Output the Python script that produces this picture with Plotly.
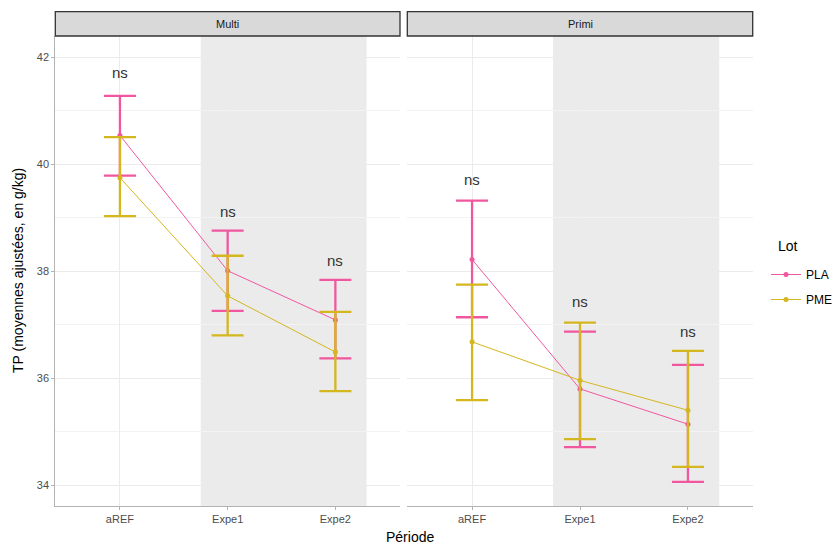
import plotly.graph_objects as go

W, H = 839, 547

periods = ["aREF", "Expe1", "Expe2"]
panels = ["Multi", "Primi"]
lots = ["PLA", "PME"]

# Multi
multi_pla_mean = [40.54, 38.01, 37.09]
multi_pla_low = [39.79, 37.26, 36.37]
multi_pla_high = [41.28, 38.76, 37.84]
multi_pme_mean = [39.75, 37.54, 36.49]
multi_pme_low = [39.03, 36.80, 35.76]
multi_pme_high = [40.51, 38.29, 37.24]

# Primi
primi_pla_mean = [38.22, 35.80, 35.14]
primi_pla_low = [37.14, 34.71, 34.06]
primi_pla_high = [39.32, 36.87, 36.25]
primi_pme_mean = [36.68, 35.96, 35.40]
primi_pme_low = [35.59, 34.86, 34.34]
primi_pme_high = [37.75, 37.04, 36.51]

multi_ns_y = [41.71, 39.12, 38.21]
primi_ns_y = [39.71, 37.44, 36.88]
ns_labels = ["ns", "ns", "ns"]

colors = {"PLA": "#F1579F", "PME": "#D4B61E"}

data = {
    "Multi": {
        "PLA": (multi_pla_mean, multi_pla_low, multi_pla_high),
        "PME": (multi_pme_mean, multi_pme_low, multi_pme_high),
        "ns": multi_ns_y,
    },
    "Primi": {
        "PLA": (primi_pla_mean, primi_pla_low, primi_pla_high),
        "PME": (primi_pme_mean, primi_pme_low, primi_pme_high),
        "ns": primi_ns_y,
    },
}

fig = go.Figure()

panel_px = {"Multi": (55.3, 400.0), "Primi": (407.3, 752.7)}
y_top_px, y_bot_px = 36.0, 506.0
strip_top_px = 11.7

def px_x(p):
    return p / W

def px_y(p):
    return 1 - p / H

axes_ids = {"Multi": ("x", "y"), "Primi": ("x2", "y2")}
FONT = "Liberation Sans, Arial"

for i, panel in enumerate(panels):
    xa, ya = axes_ids[panel]
    for lot in lots:
        mean, low, high = data[panel][lot]
        fig.add_trace(go.Scatter(
            x=periods, y=mean, xaxis=xa, yaxis=ya,
            mode="lines+markers",
            name=lot, legendgroup=lot, showlegend=(i == 0),
            line=dict(color=colors[lot], width=1),
            marker=dict(color=colors[lot], size=5),
            error_y=dict(
                type="data", symmetric=False,
                array=[h - m for h, m in zip(high, mean)],
                arrayminus=[m - l for m, l in zip(mean, low)],
                color=colors[lot], thickness=2.3, width=16,
            ),
        ))
    for p, yv, t in zip(periods, data[panel]["ns"], ns_labels):
        fig.add_annotation(
            x=p, y=yv, xref=xa, yref=ya, text=t, showarrow=False,
            font=dict(family=FONT, size=15, color="#333333"),
            yanchor="middle", xanchor="center",
        )
    fig.add_shape(type="rect", xref=xa, yref=f"{ya} domain",
                  x0=0.75, x1=2.29, y0=0, y1=1,
                  fillcolor="#EBEBEB", line=dict(width=0), layer="below")
    x0p, x1p = panel_px[panel]
    fig.add_shape(type="rect", xref="paper", yref="paper",
                  x0=px_x(x0p), x1=px_x(x1p), y0=px_y(y_top_px), y1=px_y(strip_top_px),
                  fillcolor="#D9D9D9", line=dict(color="#333333", width=1.3))
    fig.add_annotation(
        x=(px_x(x0p) + px_x(x1p)) / 2, y=(px_y(y_top_px) + px_y(strip_top_px)) / 2,
        xref="paper", yref="paper", text=panel, showarrow=False,
        xanchor="center", yanchor="middle",
        font=dict(family=FONT, size=11, color="#1A1A1A"),
    )

axis_common = dict(
    showgrid=True, gridcolor="#EBEBEB", gridwidth=1,
    zeroline=False, ticks="outside", ticklen=3, tickcolor="#B3B3B3",
    tickfont=dict(family=FONT, size=11, color="#4D4D4D"),
    automargin=False,
)

for panel in panels:
    xa, ya = axes_ids[panel]
    x0p, x1p = panel_px[panel]
    xkey = "xaxis" if xa == "x" else "xaxis2"
    ykey = "yaxis" if ya == "y" else "yaxis2"
    fig.update_layout({
        xkey: dict(
            axis_common, type="category", categoryorder="array", categoryarray=periods,
            range=[-0.6, 2.6], domain=[px_x(x0p), px_x(x1p)],
            anchor=ya, showline=True, linecolor="#B3B3B3", linewidth=1,
        ),
        ykey: dict(
            axis_common, range=[33.61, 42.40], domain=[px_y(y_bot_px), px_y(y_top_px)],
            anchor=xa, tickvals=[34, 36, 38, 40, 42],
            minor=dict(tickvals=[35, 37, 39, 41], showgrid=True, gridcolor="#F3F3F3", gridwidth=1),
            showline=(panel == "Multi"), linecolor="#B3B3B3", linewidth=1,
            showticklabels=(panel == "Multi"),
            ticks="outside" if panel == "Multi" else "",
        ),
    })

fig.add_annotation(x=px_x(410), y=px_y(537), xref="paper", yref="paper",
                   text="Période", showarrow=False, xanchor="center", yanchor="middle",
                   font=dict(family=FONT, size=14, color="#000000"))
fig.add_annotation(x=px_x(18), y=px_y(271), xref="paper", yref="paper",
                   text="TP (moyennes ajustées, en g/kg)", showarrow=False, textangle=-90,
                   xanchor="center", yanchor="middle",
                   font=dict(family=FONT, size=14, color="#000000"))
# legend title
fig.add_annotation(x=px_x(776), y=px_y(246), xref="paper", yref="paper",
                   text="Lot", showarrow=False, xanchor="left", yanchor="middle",
                   font=dict(family=FONT, size=14, color="#000000"))

fig.update_layout(
    width=W, height=H,
    margin=dict(l=0, r=0, t=0, b=0),
    plot_bgcolor="white", paper_bgcolor="white",
    legend=dict(
        font=dict(family=FONT, size=12, color="#000000"),
        x=px_x(766), y=px_y(260), xanchor="left", yanchor="top",
        bgcolor="rgba(0,0,0,0)", tracegroupgap=6, itemwidth=30,
    ),
)

fig.write_html("out.html", config={"displayModeBar": False},
               post_script="document.body.style.margin='0';document.body.style.overflow='hidden';")
